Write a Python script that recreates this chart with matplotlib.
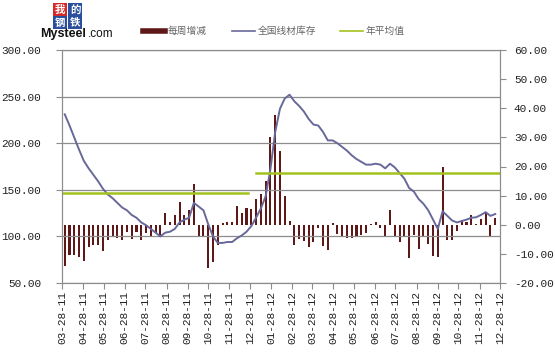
import matplotlib
matplotlib.use("Agg")
import matplotlib.pyplot as plt
import matplotlib.dates as mdates
import pandas as pd
from matplotlib.lines import Line2D
from matplotlib.patches import Rectangle
from matplotlib.ticker import FormatStrFormatter, MultipleLocator

# weekly change (right axis) and national wire-rod inventory (left axis)
weekly_change = [
    -14.0, -10.5, -10.3, -11.0, -12.5, -7.7, -7.1, -6.8, -9.0, -5.4,
    -3.7, -4.5, -5.2, -2.5, -4.8, -2.5, -5.2, -3.0, -3.7, -3.0,
    -3.8, 4.2, 1.1, 3.4, 7.8, 3.4, 5.0, 14.0, -3.7, -3.7,
    -15.0, -12.8, -6.9, 0.5, 0.8, 1.0, 6.6, 4.0, 5.7, 5.5,
    9.0, 10.7, 15.0, 30.3, 37.6, 25.2, 10.0, 1.2, -7.1, -5.0,
    -5.7, -7.7, -5.8, -1.2, -7.3, -8.8, 0.5, -3.2, -3.8, -4.4,
    -4.7, -4.2, -3.5, -2.7, 0.3, 1.1, -1.0, -4.2, 4.9, -4.2,
    -6.0, -4.2, -11.3, -3.5, -8.2, -4.2, -6.5, -10.9, -11.0, 20.0,
    -5.2, -5.2, -2.2, 1.5, 1.1, 3.2, 0.3, 2.0, 4.0, -4.0,
    2.4,
]
inventory = [
    231, 219, 206, 193, 181, 173, 166, 159, 151, 145,
    141, 136, 131, 128, 123, 120, 115, 112, 108, 104,
    100, 104, 105, 108, 115, 118, 120, 136, 132, 128,
    113, 100, 93, 93, 94, 94, 98, 101, 105, 111,
    120, 130, 143, 172, 212, 237, 248, 252, 245, 240,
    234, 226, 220, 219, 212, 203, 203, 200, 196, 192,
    187, 183, 180, 177, 177, 178, 177, 173, 178, 174,
    168, 162, 152, 148, 140, 135, 128, 118, 108, 127,
    122, 117, 115, 116.5, 118, 120, 120.5, 123, 126, 122,
    124,
]
week_dates = pd.date_range("2011-04-01", periods=len(weekly_change), freq="7D")

# yearly average segments
avg_start = ["2011-03-28", "2012-01-06"]
avg_end = ["2011-12-25", "2012-12-28"]
avg_value = [147, 168]

legend_labels = ["每周增减", "全国线材库存", "年平均值"]

BAR_C = "#5e1818"
LINE_C = "#68689a"
AVG_C = "#a2c21e"
GRID_C = "#8c8c8c"

fig = plt.figure(figsize=(5.55, 3.53), dpi=100)
fig.patch.set_facecolor("white")
ax = fig.add_axes([62 / 555, 1 - 283 / 353, 438 / 555, 233 / 353])
ax2 = ax.twinx()
ax.set_zorder(ax2.get_zorder() + 1)
ax.patch.set_visible(False)

ax2.bar(week_dates, weekly_change, width=3.0, color=BAR_C, antialiased=False)
ax.plot(week_dates, inventory, color=LINE_C, lw=1.4)
for s, e, v in zip(avg_start, avg_end, avg_value):
    ax.plot([pd.Timestamp(s), pd.Timestamp(e)], [v, v], color=AVG_C, lw=1.8)

ax.set_xlim(pd.Timestamp("2011-03-28"), pd.Timestamp("2012-12-28"))
ax.set_ylim(50, 300)
ax2.set_ylim(-20, 60)
ax.yaxis.set_major_locator(MultipleLocator(50))
ax2.yaxis.set_major_locator(MultipleLocator(10))
ax.yaxis.set_major_formatter(FormatStrFormatter("%.2f"))
ax2.yaxis.set_major_formatter(FormatStrFormatter("%.2f"))
ax.xaxis.set_major_locator(mdates.MonthLocator(bymonthday=28))
ax.xaxis.set_major_formatter(mdates.DateFormatter("%m-%d-%y"))
ax.grid(axis="y", color=GRID_C, lw=0.9)

for a in (ax, ax2):
    for sp in a.spines.values():
        sp.set_color(GRID_C)
    a.tick_params(colors=GRID_C, labelcolor="#222222", length=4, width=0.8)
ax.tick_params(axis="y", pad=11)
ax2.tick_params(axis="y", pad=6)
ax.tick_params(axis="x", pad=2)
for lab in ax.get_yticklabels() + ax2.get_yticklabels():
    lab.set_fontfamily("Liberation Mono")
    lab.set_fontsize(8)
for lab in ax.get_xticklabels():
    lab.set_fontfamily("Liberation Mono")
    lab.set_fontsize(8)
    lab.set_rotation(90)

# legend row
leg_y = 1 - 31 / 353
handles = [(143, 165, BAR_C, 4), (232, 255, LINE_C, 1.2), (340, 363, AVG_C, 1.2)]
for (x0, x1, c, w), text in zip(handles, legend_labels):
    fig.add_artist(Line2D([x0 / 555, x1 / 555], [leg_y, leg_y], color=c, lw=w,
                          transform=fig.transFigure))
    fig.text((x1 + 3) / 555, leg_y, text, fontsize=7, color="#666666",
             family="Noto Sans CJK SC", va="center", ha="left")

# logo: four coloured squares with white characters, then the site name
logo = [("我", 53, 3, "#d42a2a"), ("的", 68, 3, "#2a4f9c"),
        ("钢", 53, 16, "#2a4f9c"), ("铁", 68, 16, "#2a4f9c")]
for ch, x, y, c in logo:
    fig.add_artist(Rectangle((x / 555, 1 - (y + 13) / 353), 14 / 555, 13 / 353,
                             facecolor=c, edgecolor="none",
                             transform=fig.transFigure))
    fig.text((x + 7) / 555, 1 - (y + 6.5) / 353, ch, fontsize=7.5, color="white",
             weight="bold", family="Noto Sans CJK SC", ha="center", va="center")
fig.text(40 / 555, 1 - 34 / 353, "Mysteel", fontsize=9, weight="bold",
         family="Liberation Sans", color="#111111", va="center", ha="left")
fig.text(88 / 555, 1 - 34 / 353, ".com", fontsize=8.5,
         family="Liberation Sans", color="#111111", va="center", ha="left")

fig.savefig("out.png", dpi=100, facecolor="white")
